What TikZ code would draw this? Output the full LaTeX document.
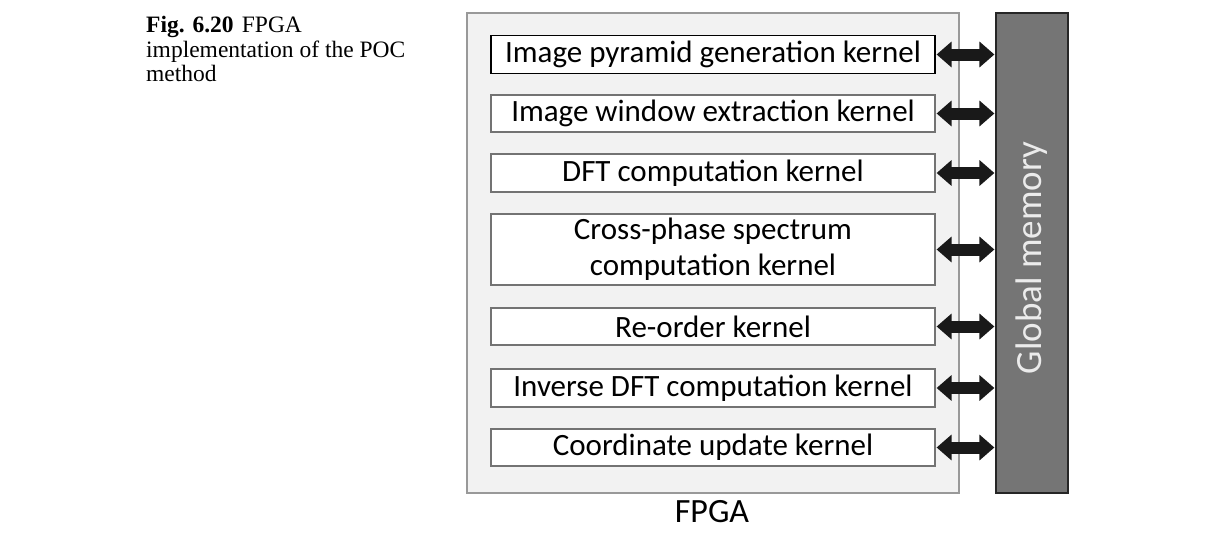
\documentclass[tikz,border=0pt]{standalone}
\usepackage{fontspec}
\setmainfont{Carlito}
\newfontfamily\capfont{Liberation Serif}
\usetikzlibrary{arrows.meta}
\begin{document}
\begin{tikzpicture}[x=1pt,y=-1pt,
  kbox/.style={draw=black!55, fill=white, line width=1.2pt, minimum width=444pt, align=center, inner sep=0pt, font=\fontsize{31}{36}\selectfont},
  biarrow/.style={line width=12pt, draw=black!90, {Triangle[length=15pt,width=25pt]}-{Triangle[length=15pt,width=25pt]}, shorten <=1pt, shorten >=1pt}]
\useasboundingbox (0,0) rectangle (1216,541);
\fill[white] (0,0) rectangle (1216,541);
% caption
\node[anchor=north west, inner sep=0pt, align=left, font=\capfont\fontsize{23.5}{24.5}\selectfont] (cap) at (146,16)
  {\textbf{Fig. 6.20}\hspace{0.35em}FPGA\\implementation of the POC\\method};
% FPGA box
\node[draw=black!40, fill=black!5, line width=1.2pt, minimum width=492pt, minimum height=480pt, inner sep=0pt] (fpga) at (713,253) {};
\node[font=\fontsize{34}{40}\selectfont, inner sep=0pt] (fpgalbl) at (712,512) {FPGA};
% memory
\node[draw=black!85, fill=black!54, line width=1.2pt, minimum width=72pt, minimum height=480pt, inner sep=0pt] (mem) at (1032,253) {};
\node[rotate=90, text=black!8, font=\fontsize{37}{44}\selectfont, inner sep=0pt] (memlbl) at (1032,258) {Global memory};
% kernels
\node[kbox, draw=black, minimum height=38pt] (k1) at (713,54.5) {Image pyramid generation kernel};
\node[kbox, minimum height=37pt] (k2) at (713,113.5) {Image window extraction kernel};
\node[kbox, minimum height=38pt] (k3) at (713,173) {DFT computation kernel};
\node[kbox, minimum height=71pt] (k4) at (713,249.5) {Cross-phase spectrum\\computation kernel};
\node[kbox, minimum height=37pt] (k5) at (713,326.5) {Re-order kernel};
\node[kbox, minimum height=38pt] (k6) at (713,388) {Inverse DFT computation kernel};
\node[kbox, minimum height=37pt] (k7) at (713,447.5) {Coordinate update kernel};
\foreach \k in {k1,k2,k3,k4,k5,k6,k7}
  \draw[biarrow] (\k.east) -- (mem.west |- \k.east);
\end{tikzpicture}
\end{document}
